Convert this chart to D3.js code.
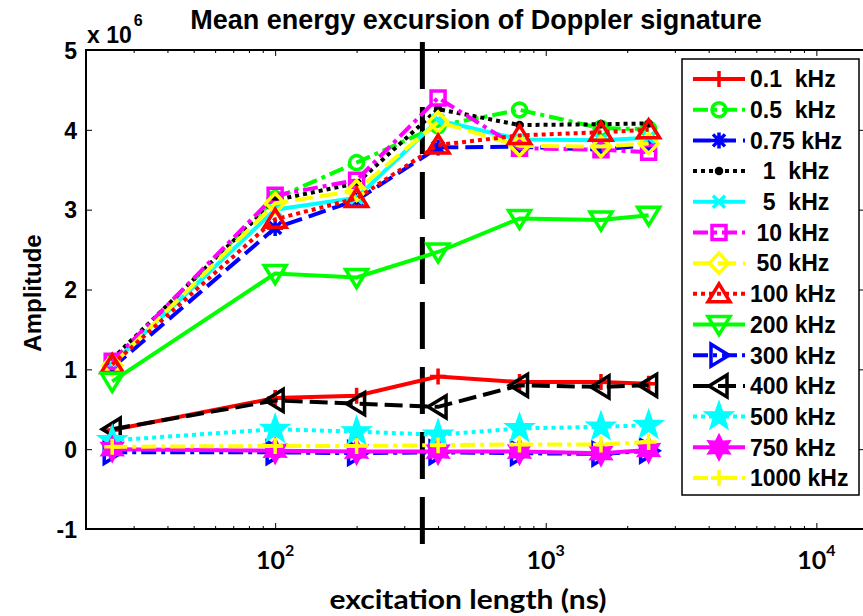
<!DOCTYPE html>
<html>
<head>
<meta charset="utf-8">
<script src="https://cdn.jsdelivr.net/npm/d3@7"></script>
<style>
  body { margin: 0; background: #fff; }
  text { font-family: "Liberation Sans", Arial, sans-serif; font-weight: bold; fill: #000; }
  .calib { font-family: Lato, "Open Sans", sans-serif; }
</style>
</head>
<body>
<div id="chart"></div>
<script>
// excitation lengths (ns)
const lengths = [25, 100, 200, 400, 800, 1600, 2400];

// mean energy excursion, units of 1e6
const amp0_1kHz  = [0.24, 0.64, 0.67, 0.91, 0.84, 0.84, 0.82];
const amp0_5kHz  = [1.10, 3.14, 3.59, 4.05, 4.25, 4.02, 4.01];
const amp0_75kHz = [1.02, 2.77, 3.12, 3.78, 3.79, 3.75, 3.81];
const amp1kHz    = [1.13, 3.12, 3.33, 4.26, 4.06, 4.07, 4.08];
const amp5kHz    = [1.07, 3.00, 3.15, 4.12, 3.88, 3.87, 3.90];
const amp10kHz   = [1.10, 3.18, 3.37, 4.40, 3.77, 3.75, 3.72];
const amp50kHz   = [1.05, 3.08, 3.24, 4.10, 3.80, 3.79, 3.83];
const amp100kHz  = [1.06, 2.88, 3.14, 3.81, 3.93, 3.97, 4.00];
const amp200kHz  = [0.85, 2.20, 2.15, 2.47, 2.89, 2.87, 2.93];
const amp300kHz  = [-0.04, -0.04, -0.05, -0.04, -0.05, -0.06, -0.02];
const amp400kHz  = [0.25, 0.61, 0.57, 0.53, 0.80, 0.78, 0.80];
const amp500kHz  = [0.11, 0.25, 0.22, 0.18, 0.26, 0.28, 0.30];
const amp750kHz  = [0.00, -0.02, -0.03, -0.03, -0.03, -0.05, -0.01];
const amp1000kHz = [0.03, 0.04, 0.04, 0.05, 0.06, 0.06, 0.09];

const legendLabels = ["0.1  kHz", "0.5  kHz", "0.75 kHz", "  1  kHz", "  5  kHz", " 10 kHz", " 50 kHz",
    "100 kHz", "200 kHz", "300 kHz", "400 kHz", "500 kHz", "750 kHz", "1000 kHz"];
const allValues = [amp0_1kHz, amp0_5kHz, amp0_75kHz, amp1kHz, amp5kHz, amp10kHz, amp50kHz,
    amp100kHz, amp200kHz, amp300kHz, amp400kHz, amp500kHz, amp750kHz, amp1000kHz];

const colors = ["#ff0000", "#00ff00", "#0000ff", "#000000", "#00ffff", "#ff00ff", "#ffff00"];
const styles = ["-", "-.", "--", ":"];
const markers = ["+", "o", "*", ".", "x", "s", "d", "^", "v", ">", "<", "p", "h"];

const yTicks = [-1, 0, 1, 2, 3, 4, 5];
const xMajor = [100, 1000, 10000];
const cutoff = 350; // vertical dashed marker (ns)

const W = 863, H = 616;
const x = d3.scaleLog().domain([20, 15000]).range([86, 864]);
const y = d3.scaleLinear().domain([-1, 5]).range([529, 50]);

const dashOf = {"-": null, "--": "18,7", ":": "4,4", "-.": "15,5,4,5"};

function star(p, n, R, r) {
    for (let i = 0; i < 2 * n; i++) {
        const a = -Math.PI / 2 + i * Math.PI / n;
        const rad = i % 2 === 0 ? R : r;
        if (i === 0) p.moveTo(rad * Math.cos(a), rad * Math.sin(a));
        else p.lineTo(rad * Math.cos(a), rad * Math.sin(a));
    }
    p.closePath();
}

function markerPath(m) {
    const p = d3.path();
    switch (m) {
        case "+": p.moveTo(-8, 0); p.lineTo(8, 0); p.moveTo(0, -8); p.lineTo(0, 8); break;
        case "x": p.moveTo(-6, -6); p.lineTo(6, 6); p.moveTo(-6, 6); p.lineTo(6, -6); break;
        case "*": p.moveTo(-8, 0); p.lineTo(8, 0); p.moveTo(0, -8); p.lineTo(0, 8);
                  p.moveTo(-6, -6); p.lineTo(6, 6); p.moveTo(-6, 6); p.lineTo(6, -6); break;
        case "o": p.moveTo(7, 0); p.arc(0, 0, 7, 0, 2 * Math.PI); break;
        case ".": p.moveTo(3.5, 0); p.arc(0, 0, 3.5, 0, 2 * Math.PI); break;
        case "s": p.rect(-7, -7, 14, 14); break;
        case "d": p.moveTo(0, -10); p.lineTo(9.5, 0); p.lineTo(0, 10); p.lineTo(-9.5, 0); p.closePath(); break;
        case "^": p.moveTo(0, -10); p.lineTo(11, 8); p.lineTo(-11, 8); p.closePath(); break;
        case "v": p.moveTo(0, 10); p.lineTo(11, -8); p.lineTo(-11, -8); p.closePath(); break;
        case ">": p.moveTo(10, 0); p.lineTo(-8, -11); p.lineTo(-8, 11); p.closePath(); break;
        case "<": p.moveTo(-10, 0); p.lineTo(8, -11); p.lineTo(8, 11); p.closePath(); break;
        case "p": star(p, 5, 15, 6); break;
        case "h": star(p, 6, 13, 7); break;
    }
    return p.toString();
}
const filled = m => m === "." || m === "p" || m === "h";

const series = allValues.map((vals, i) => ({
    label: legendLabels[i],
    color: colors[i % colors.length],
    style: styles[i % styles.length],
    marker: markers[i % markers.length],
    points: lengths.map((L, j) => ({ L: L, v: vals[j] }))
}));

const svg = d3.select("#chart").append("svg")
    .attr("width", W)
    .attr("height", H);

// ticks
const minor = [];
[10, 100, 1000].forEach(dec => { for (let k = 2; k <= 9; k++) if (dec * k >= 20) minor.push(dec * k); });

function tickGroup(axis, ty) {
    const g = svg.append("g").attr("transform", `translate(0,${ty})`).call(axis);
    g.select(".domain").remove();
    g.selectAll("line").attr("stroke", "#000").attr("stroke-width", 1);
    return g;
}
tickGroup(d3.axisBottom(x).tickValues(minor).tickSizeInner(-3).tickSizeOuter(0).tickFormat(""), y(-1));
tickGroup(d3.axisBottom(x).tickValues(xMajor).tickSizeInner(-6).tickSizeOuter(0).tickFormat(""), y(-1));
tickGroup(d3.axisTop(x).tickValues(minor).tickSizeInner(-3).tickSizeOuter(0).tickFormat(""), y(5));
tickGroup(d3.axisTop(x).tickValues(xMajor).tickSizeInner(-6).tickSizeOuter(0).tickFormat(""), y(5));

const yAxisG = svg.append("g").attr("transform", `translate(${x(20)},0)`)
    .call(d3.axisLeft(y).tickValues(yTicks).tickSizeInner(-6).tickSizeOuter(0).tickPadding(9)
        .tickFormat(d => String(d)));
yAxisG.select(".domain").remove();
yAxisG.selectAll("line").attr("stroke", "#000").attr("stroke-width", 1);
yAxisG.selectAll("text").attr("font-size", 23).attr("dy", "0.36em")
    .style("font-family", "'Liberation Sans', Arial, sans-serif").style("font-weight", "bold");

const yRight = svg.append("g").attr("transform", `translate(${x(15000)},0)`)
    .call(d3.axisRight(y).tickValues(yTicks).tickSizeInner(-6).tickSizeOuter(0).tickFormat(""));
yRight.select(".domain").remove();
yRight.selectAll("line").attr("stroke", "#000");

// box
svg.append("rect")
    .attr("x", x(20)).attr("y", y(5))
    .attr("width", x(15000) - x(20)).attr("height", y(-1) - y(5))
    .attr("fill", "none").attr("stroke", "#000").attr("stroke-width", 2);

// x tick labels
xMajor.forEach((t, i) => {
    const tx = svg.append("text").attr("class", "calib")
        .attr("x", x(t)).attr("y", 569)
        .attr("text-anchor", "middle")
        .attr("font-size", 25);
    tx.append("tspan").text("10");
    tx.append("tspan").attr("dy", -13).attr("font-size", 16).text(String(i + 2));
});

// vertical dashed marker
svg.append("line")
    .attr("x1", x(cutoff)).attr("x2", x(cutoff))
    .attr("y1", y(5.1)).attr("y2", y(-1.2))
    .attr("stroke", "#000").attr("stroke-width", 5)
    .attr("stroke-dasharray", "47,18");

// series
const line = d3.line().x(d => x(d.L)).y(d => y(d.v));
series.forEach(s => {
    const g = svg.append("g");
    g.append("path")
        .attr("d", line(s.points))
        .attr("fill", "none")
        .attr("stroke", s.color)
        .attr("stroke-width", 4)
        .attr("stroke-dasharray", dashOf[s.style]);
    g.selectAll("path.mk").data(s.points).enter().append("path")
        .attr("class", "mk")
        .attr("transform", d => `translate(${x(d.L)},${y(d.v)})`)
        .attr("d", markerPath(s.marker))
        .attr("fill", filled(s.marker) ? s.color : "none")
        .attr("stroke", s.color)
        .attr("stroke-width", filled(s.marker) ? 1.5 : 3.5);
});

// legend
const leg = svg.append("g");
leg.append("rect")
    .attr("x", 682).attr("y", 59).attr("width", 177).attr("height", 436)
    .attr("fill", "#fff").attr("stroke", "#000").attr("stroke-width", 1.5);
const rowY = d3.scaleLinear().domain([0, series.length - 1]).range([79, 478]);
series.forEach((s, i) => {
    const ry = rowY(i);
    leg.append("line")
        .attr("x1", 693).attr("x2", 745).attr("y1", ry).attr("y2", ry)
        .attr("stroke", s.color).attr("stroke-width", 4)
        .attr("stroke-dasharray", dashOf[s.style]);
    leg.append("path")
        .attr("transform", `translate(719,${ry})`)
        .attr("d", markerPath(s.marker))
        .attr("fill", filled(s.marker) ? s.color : "none")
        .attr("stroke", s.color)
        .attr("stroke-width", filled(s.marker) ? 1.5 : 3.5);
    leg.append("text")
        .attr("x", 750).attr("y", ry).attr("dy", "0.36em")
        .attr("font-size", 23)
        .style("white-space", "pre")
        .text(s.label);
});

// titles
svg.append("text")
    .attr("x", 476).attr("y", 29)
    .attr("text-anchor", "middle").attr("font-size", 27)
    .text("Mean energy excursion of Doppler signature");

const exp = svg.append("text").attr("x", 87).attr("y", 43).attr("font-size", 23);
exp.append("tspan").text("x 10");
exp.append("tspan").attr("dy", -17).attr("dx", 2).attr("font-size", 16).text("6");

svg.append("text")
    .attr("transform", "translate(41,293) rotate(-90)")
    .attr("text-anchor", "middle").attr("font-size", 24)
    .text("Amplitude");

svg.append("text").attr("class", "calib")
    .attr("x", 468).attr("y", 609)
    .attr("text-anchor", "middle").attr("font-size", 26)
    .attr("textLength", 277).attr("lengthAdjust", "spacingAndGlyphs")
    .text("excitation length (ns)");
</script>
</body>
</html>
